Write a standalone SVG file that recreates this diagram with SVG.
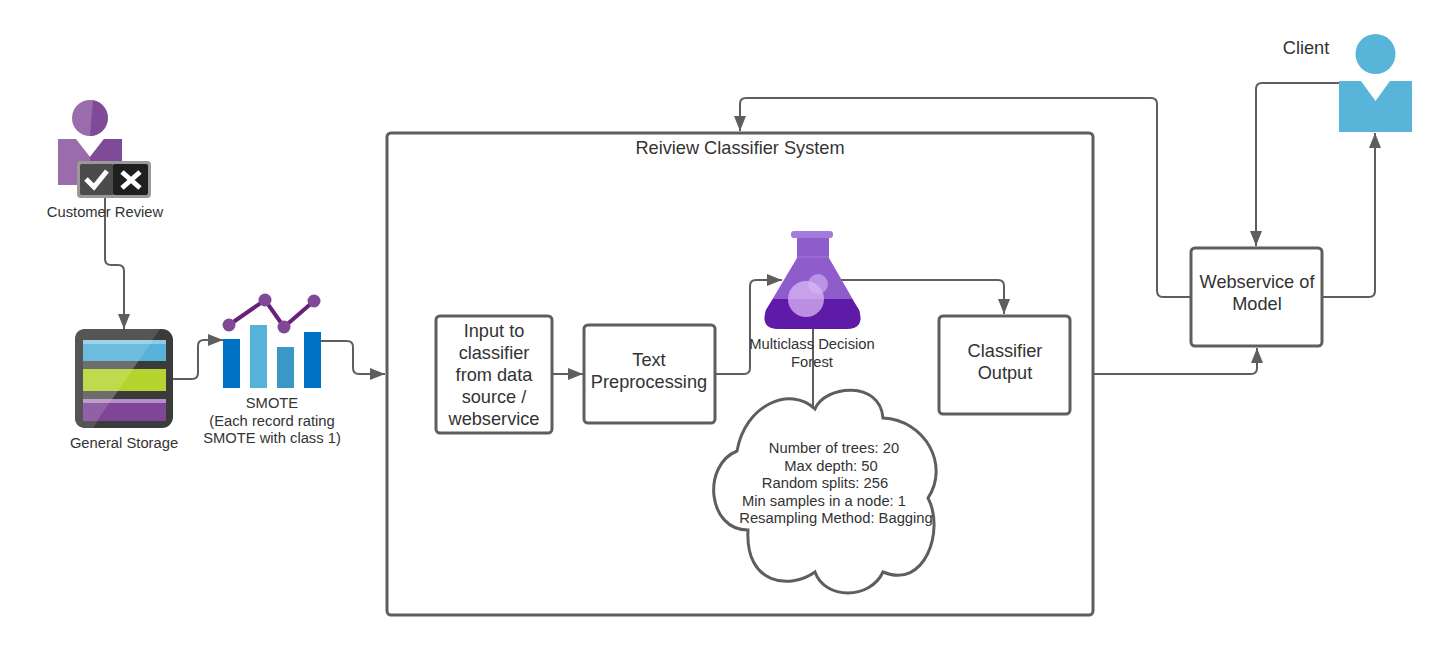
<svg xmlns="http://www.w3.org/2000/svg" width="1445" height="650" viewBox="0 0 1445 650">
<style>
text{font-family:"Liberation Sans",Arial,sans-serif;fill:#333;text-anchor:middle}
.s{font-size:14.75px}.m{font-size:18.2px}
.box{fill:#fff;stroke:#5e5e5e;stroke-width:3}
.c{fill:none;stroke:#5e5e5e;stroke-width:2;marker-end:url(#a)}
.p{fill:none;stroke:#5e5e5e;stroke-width:2}
</style>
<defs>
<marker id="a" markerUnits="userSpaceOnUse" markerWidth="16" markerHeight="12" refX="15" refY="6" orient="auto"><path d="M0 0L15 6L0 12Z" fill="#5e5e5e"/></marker>
</defs>
<rect width="1445" height="650" fill="#fff"/>
<g id="system"><rect class="box" x="387" y="133" width="706" height="482" rx="4"/><text x="740" y="154" class="m">Reiview Classifier System</text></g>
<g id="connectors">
<path class="c" d="M105 198V259Q105 265 111 265H118Q124 265 124 271V329"/>
<path class="c" d="M173 379H192Q198 379 198 373V346Q198 340 204 340H223"/>
<path class="c" d="M321 341H347Q353 341 353 347V368Q353 374 359 374H385"/>
<path class="c" d="M552 374H583"/>
<path class="c" d="M715 374H744Q750 374 750 368V286Q750 280 756 280H782"/>
<path class="c" d="M840 280H998Q1004 280 1004 286V314"/>
<path class="p" d="M813 329V410"/>
<path class="c" d="M1094 374H1251Q1257 374 1257 368V348"/>
<path class="c" d="M1191 297H1163Q1157 297 1157 291V104Q1157 98 1151 98H746Q740 98 740 104V131"/>
<path class="c" d="M1340 83H1262Q1256 83 1256 89V246"/>
<path class="c" d="M1323 297H1369Q1375 297 1375 291V133"/>
</g>
<g id="customer-review">
<circle cx="90" cy="118" r="18" fill="#9b6cab"/><path d="M93 100.300A18 18 0 0 1 90 136Q90 136 90 136Z" fill="#7f4a97"/>
<path d="M58 139H76L90 157L104 139H122V185H58Z" fill="#9b6cab"/><path d="M90 157L104 139H122V185H90Z" fill="#7f4a97"/>
<rect x="77" y="161" width="74" height="37" rx="4" fill="#999"/><rect x="80" y="164" width="34" height="31" rx="2" fill="#4b4b4b"/><rect x="113" y="164" width="35" height="31" rx="2" fill="#1f1f1f"/>
<path d="M86 179L94 187L107 171" fill="none" stroke="#fff" stroke-width="5"/><path d="M122 172L140 188M140 172L122 188" fill="none" stroke="#fff" stroke-width="5"/>
<text x="105" y="217" class="s">Customer Review</text>
</g>
<g id="general-storage">
<rect x="75" y="329" width="98" height="99" rx="11" fill="#3b3b3b"/>
<path d="M75 417V340Q75 329 86 329H160L93 428H86Q75 428 75 417Z" fill="#555"/>
<rect x="83" y="340" width="83" height="21" fill="#56b2d9"/><rect x="83" y="340" width="83" height="4" fill="#8fcbe6"/>
<rect x="83" y="369" width="83" height="22" fill="#b5d430"/><rect x="83" y="399" width="83" height="22" fill="#7f4698"/><rect x="83" y="399" width="83" height="4" fill="#b58fc6"/>
<path d="M83 340H153L133 369H83ZM83 369H133L112 399H83ZM83 399H112L97 421H83Z" fill="#fff" fill-opacity=".14"/>
<text x="124" y="448" class="s">General Storage</text>
</g>
<g id="smote">
<rect x="223" y="339" width="17" height="49" fill="#0072c6"/><rect x="250" y="325" width="17" height="63" fill="#56b2d9"/><rect x="277" y="347" width="17" height="41" fill="#3a98c6"/><rect x="304" y="332" width="17" height="56" fill="#0072c6"/>
<path d="M229 325L265 300L284 327L314 301" fill="none" stroke="#68217a" stroke-width="4"/>
<g fill="#804998"><circle cx="229" cy="325" r="6.500"/><circle cx="265" cy="300" r="6.500"/><circle cx="284" cy="327" r="6.500"/><circle cx="314" cy="301" r="6.500"/></g>
<text x="272" y="408" class="s">SMOTE</text><text x="272" y="426" class="s">(Each record rating</text><text x="272" y="443" class="s">SMOTE with class 1)</text>
</g>
<g id="input"><rect class="box" x="436" y="316" width="116" height="117" rx="4"/><text x="494" y="337" class="m">Input to</text><text x="494" y="359" class="m">classifier</text><text x="494" y="381" class="m">from data</text><text x="494" y="403" class="m">source /</text><text x="494" y="425" class="m">webservice</text></g>
<g id="preprocessing"><rect class="box" x="584" y="325" width="131" height="98" rx="4"/><text x="649" y="366" class="m">Text</text><text x="649" y="388" class="m">Preprocessing</text></g>
<g id="flask">
<rect x="791" y="231" width="42" height="7" rx="3" fill="#a47bdc"/>
<path d="M797 238H829V258L859 310Q865 329 846 329H779Q760 329 766 310L797 258Z" fill="#8f5ccc"/>
<path d="M773 299H852L859 310Q865 329 846 329H779Q760 329 766 310Z" fill="#5f1ba8"/>
<path d="M797 257H829" stroke="#a47bdc" stroke-width="1"/>
<circle cx="806" cy="299" r="18" fill="#d9b8f5" fill-opacity=".75"/><circle cx="818" cy="284" r="10" fill="#d9b8f5" fill-opacity=".6"/>
<text x="812" y="349" class="s">Multiclass Decision</text><text x="812" y="367" class="s">Forest</text>
</g>
<g id="output"><rect class="box" x="939" y="316" width="131" height="98" rx="4"/><text x="1005" y="357" class="m">Classifier</text><text x="1005" y="379" class="m">Output</text></g>
<g id="cloud">
<path class="box" d="M815 409C825 385 880 380 883 418C925 420 950 465 928 498C945 530 925 590 883 572C870 600 825 600 815 572C790 590 745 585 748 530C707 530 702 465 737 451C745 405 790 385 815 409Z"/>
<g class="s"><text x="834" y="453">Number of trees: 20</text><text x="831" y="471">Max depth: 50</text><text x="825" y="488">Random splits: 256</text><text x="824" y="506">Min samples in a node: 1</text><text x="836" y="523">Resampling Method: Bagging</text></g>
</g>
<g id="webservice"><rect class="box" x="1191" y="248" width="131" height="98" rx="4"/><text x="1257" y="288" class="m">Webservice of</text><text x="1257" y="310" class="m">Model</text></g>
<g id="client">
<circle cx="1375.500" cy="54" r="20" fill="#59b4d9"/><path d="M1339 81H1361L1375.500 101L1390 81H1412V132H1339Z" fill="#59b4d9"/>
<text x="1306" y="54" class="m">Client</text>
</g>
</svg>
